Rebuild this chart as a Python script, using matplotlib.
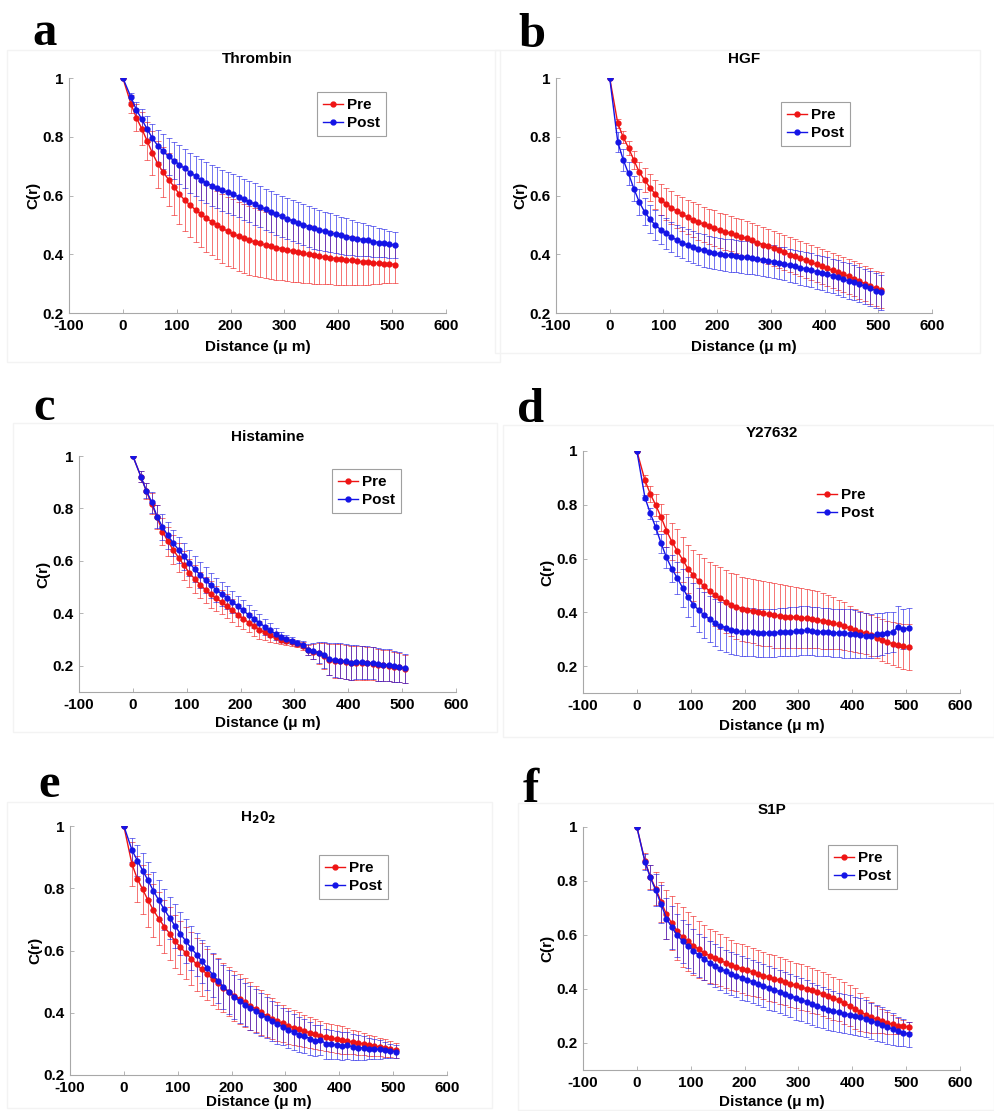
import matplotlib
matplotlib.use("Agg")
import matplotlib.pyplot as plt
from matplotlib.patches import Rectangle
from matplotlib.ticker import FuncFormatter

plt.rcParams["font.family"] = ["Liberation Sans", "DejaVu Sans"]
plt.rcParams["font.weight"] = "bold"
plt.rcParams["axes.labelweight"] = "bold"
plt.rcParams["axes.unicode_minus"] = False
plt.rcParams["mathtext.default"] = "bf"

# distance grid (um), shared by all panels
DIST = [0, 15, 25, 35, 45, 55, 65, 75, 85, 95,
        105, 115, 125, 135, 145, 155, 165, 175, 185, 195,
        205, 215, 225, 235, 245, 255, 265, 275, 285, 295,
        305, 315, 325, 335, 345, 355, 365, 375, 385, 395,
        405, 415, 425, 435, 445, 455, 465, 475, 485, 495,
        505]

# a - Thrombin
THROMBIN_PRE = [1.0, .912, .865, .828, .786, .744, .707, .679, .654, .630,
                .604, .584, .567, .551, .537, .522, .511, .500, .488, .478,
                .470, .461, .454, .448, .442, .437, .431, .427, .422, .419,
                .414, .411, .406, .403, .400, .396, .393, .390, .388, .385,
                .383, .381, .379, .376, .374, .372, .371, .369, .368, .367,
                .365]
THROMBIN_PRE_SD = [0, .03, .045, .055, .065, .075, .08, .085, .09, .095,
                   .10, .105, .108, .11, .112, .114, .115, .116, .117, .118,
                   .118, .118, .118, .117, .116, .115, .113, .112, .110, .108,
                   .106, .104, .102, .100, .098, .096, .094, .092, .090, .088,
                   .086, .084, .082, .080, .078, .075, .072, .070, .067, .065,
                   .063]
THROMBIN_POST = [1.0, .935, .892, .860, .826, .795, .769, .750, .733, .719,
                 .705, .692, .678, .666, .653, .643, .634, .626, .618, .611,
                 .604, .596, .587, .579, .571, .562, .553, .545, .536, .529,
                 .521, .514, .507, .500, .494, .488, .482, .478, .473, .469,
                 .464, .460, .456, .453, .450, .447, .443, .440, .438, .434,
                 .431]
THROMBIN_POST_SD = [0, .015, .025, .035, .045, .05, .055, .06, .062, .064,
                    .066, .067, .068, .069, .07, .07, .07, .07, .07, .07,
                    .07, .07, .07, .07, .07, .07, .07, .07, .07, .07,
                    .07, .07, .07, .07, .07, .069, .068, .067, .066, .065,
                    .064, .062, .06, .058, .056, .054, .052, .05, .048, .046,
                    .044]

# b - HGF
HGF_PRE = [1.0, .846, .799, .762, .720, .680, .652, .627, .604, .586,
           .572, .559, .546, .536, .527, .518, .510, .502, .495, .489,
           .482, .476, .471, .465, .459, .454, .447, .440, .433, .427,
           .420, .413, .406, .399, .393, .386, .379, .372, .366, .359,
           .352, .345, .338, .332, .325, .317, .309, .300, .292, .284,
           .278]
HGF_PRE_SD = [0, .015, .02, .025, .03, .035, .04, .045, .05, .052,
              .055, .056, .057, .058, .059, .06, .06, .06, .06, .06,
              .06, .06, .06, .06, .06, .06, .06, .06, .06, .06,
              .06, .06, .06, .06, .06, .06, .06, .06, .06, .06,
              .06, .06, .06, .06, .06, .06, .06, .06, .06, .06,
              .06]
HGF_POST = [1.0, .782, .722, .675, .623, .578, .544, .519, .499, .484,
            .471, .459, .448, .439, .431, .424, .419, .413, .408, .404,
            .400, .398, .396, .393, .391, .389, .387, .384, .381, .378,
            .375, .371, .368, .363, .359, .354, .350, .345, .341, .336,
            .332, .326, .321, .315, .309, .304, .298, .291, .284, .276,
            .270]
HGF_POST_SD = [0, .035, .038, .04, .042, .044, .046, .048, .05, .05,
               .052, .052, .053, .053, .054, .054, .055, .055, .055, .055,
               .055, .055, .055, .055, .055, .055, .055, .055, .055, .055,
               .055, .055, .056, .056, .057, .057, .058, .058, .058, .059,
               .059, .059, .06, .06, .06, .06, .06, .06, .06, .06,
               .06]

# c - Histamine
HISTAMINE_PRE = [1.0, .921, .866, .817, .767, .712, .675, .642, .612, .583,
                 .554, .531, .509, .490, .472, .457, .443, .427, .411, .395,
                 .380, .365, .351, .338, .327, .317, .308, .300, .294, .289,
                 .283, .275, .260, .254, .247, .237, .223, .219, .217, .214,
                 .210, .211, .211, .210, .208, .203, .202, .201, .196, .194,
                 .188]
HISTAMINE_PRE_SD = [0, .02, .03, .04, .045, .05, .055, .055, .055, .055,
                    .055, .055, .05, .05, .05, .048, .046, .045, .044, .042,
                    .04, .038, .036, .034, .03, .025, .02, .018, .015, .012,
                    .012, .015, .02, .03, .04, .05, .06, .065, .065, .065,
                    .065, .065, .064, .063, .062, .062, .06, .06, .058, .056,
                    .055]
HISTAMINE_POST = [1.0, .921, .868, .824, .769, .729, .697, .668, .642, .617,
                  .592, .568, .546, .526, .507, .490, .474, .459, .442, .427,
                  .411, .394, .379, .364, .349, .335, .321, .310, .301, .295,
                  .288, .280, .262, .256, .250, .240, .226, .222, .220, .217,
                  .212, .213, .213, .212, .210, .205, .204, .203, .198, .196,
                  .190]
HISTAMINE_POST_SD = [0, .02, .03, .04, .045, .05, .05, .05, .05, .05,
                     .05, .05, .05, .05, .048, .046, .045, .044, .042, .04,
                     .038, .036, .034, .032, .03, .027, .024, .02, .016, .013,
                     .012, .014, .02, .03, .04, .05, .06, .064, .065, .066,
                     .066, .065, .064, .063, .062, .062, .061, .06, .058, .056,
                     .055]

# d - Y27632
Y27632_PRE = [1.0, .891, .840, .799, .754, .704, .663, .629, .596, .562,
              .538, .516, .497, .479, .464, .452, .439, .429, .421, .413,
              .408, .405, .400, .396, .393, .389, .387, .384, .383, .382,
              .380, .378, .376, .372, .368, .365, .360, .355, .349, .341,
              .334, .328, .322, .314, .305, .297, .290, .283, .278, .274,
              .270]
Y27632_PRE_SD = [0, .02, .03, .04, .05, .06, .07, .08, .085, .09,
                 .095, .10, .105, .11, .113, .115, .117, .118, .12, .12,
                 .12, .12, .12, .12, .12, .12, .118, .116, .115, .113,
                 .112, .11, .108, .106, .104, .10, .096, .092, .088, .084,
                 .08, .078, .077, .076, .076, .077, .078, .08, .082, .084,
                 .085]
Y27632_POST = [1.0, .827, .768, .716, .657, .604, .562, .528, .491, .456,
               .429, .408, .390, .375, .361, .350, .343, .335, .330, .328,
               .327, .326, .324, .324, .324, .324, .326, .327, .328, .329,
               .332, .333, .330, .328, .327, .326, .324, .324, .322, .321,
               .319, .315, .313, .312, .319, .321, .324, .327, .346, .338,
               .342]
Y27632_POST_SD = [0, .01, .02, .025, .035, .04, .05, .06, .07, .075,
                  .08, .082, .084, .086, .088, .09, .09, .09, .09, .09,
                  .09, .09, .09, .09, .09, .09, .09, .09, .09, .09,
                  .09, .09, .09, .09, .09, .09, .09, .09, .09, .09,
                  .088, .086, .084, .082, .08, .078, .077, .076, .076, .075,
                  .075]

# e - H2O2
H2O2_PRE = [1.0, .878, .830, .796, .761, .729, .702, .677, .654, .630,
            .611, .592, .574, .556, .539, .523, .508, .494, .481, .468,
            .455, .444, .433, .422, .412, .401, .390, .381, .373, .366,
            .358, .352, .347, .341, .336, .331, .326, .322, .319, .315,
            .312, .309, .306, .303, .300, .296, .293, .290, .287, .283,
            .279]
H2O2_PRE_SD = [0, .07, .075, .08, .085, .085, .085, .085, .085, .085,
               .085, .085, .085, .085, .084, .083, .082, .081, .08, .08,
               .08, .079, .078, .077, .075, .072, .069, .066, .063, .06,
               .058, .056, .054, .052, .05, .048, .047, .046, .045, .045,
               .044, .042, .04, .038, .036, .034, .032, .03, .028, .026,
               .025]
H2O2_POST = [1.0, .923, .889, .857, .825, .791, .761, .732, .705, .679,
             .654, .630, .608, .587, .565, .544, .522, .502, .483, .466,
             .451, .438, .426, .416, .405, .394, .384, .374, .363, .355,
             .346, .338, .330, .325, .317, .310, .312, .301, .299, .296,
             .293, .295, .291, .288, .287, .285, .284, .282, .280, .278,
             .275]
H2O2_POST_SD = [0, .04, .05, .055, .06, .062, .064, .066, .068, .07,
                .07, .07, .07, .07, .07, .07, .07, .07, .07, .07,
                .07, .07, .07, .07, .07, .068, .066, .064, .062, .06,
                .06, .058, .056, .054, .052, .05, .049, .048, .047, .046,
                .045, .044, .042, .04, .038, .035, .032, .029, .026, .023,
                .02]

# f - S1P
S1P_PRE = [1.0, .874, .815, .772, .723, .676, .643, .614, .593, .576,
           .561, .547, .534, .523, .515, .506, .497, .490, .482, .475,
           .469, .463, .457, .450, .444, .438, .432, .426, .420, .413,
           .407, .401, .395, .389, .381, .374, .366, .358, .348, .338,
           .327, .316, .305, .295, .288, .281, .274, .269, .264, .262,
           .259]
S1P_PRE_SD = [0, .03, .045, .06, .075, .09, .10, .105, .11, .11,
              .108, .105, .102, .10, .098, .096, .094, .092, .09, .09,
              .09, .089, .088, .088, .087, .087, .086, .086, .085, .085,
              .085, .084, .083, .082, .081, .08, .079, .078, .077, .076,
              .075, .07, .065, .058, .05, .045, .04, .035, .03, .025,
              .02]
S1P_POST = [1.0, .871, .813, .766, .714, .661, .628, .599, .577, .559,
            .541, .525, .512, .498, .486, .475, .465, .456, .449, .441,
            .434, .427, .419, .412, .404, .397, .390, .382, .375, .367,
            .360, .353, .345, .338, .331, .324, .318, .313, .308, .305,
            .301, .296, .290, .283, .275, .268, .259, .252, .244, .238,
            .232]
S1P_POST_SD = [0, .03, .045, .06, .07, .075, .08, .08, .08, .08,
               .08, .08, .08, .08, .08, .08, .08, .08, .08, .08,
               .08, .08, .08, .08, .08, .08, .08, .08, .08, .08,
               .08, .079, .078, .077, .076, .075, .074, .073, .072, .071,
               .07, .069, .068, .067, .066, .064, .062, .058, .054, .05,
               .046]

TITLES = ["Thrombin", "HGF", "Histamine", "Y27632", r"H$_2$0$_2$", "S1P"]
LETTERS = ["a", "b", "c", "d", "e", "f"]
SERIES = [
    (THROMBIN_PRE, THROMBIN_PRE_SD, THROMBIN_POST, THROMBIN_POST_SD),
    (HGF_PRE, HGF_PRE_SD, HGF_POST, HGF_POST_SD),
    (HISTAMINE_PRE, HISTAMINE_PRE_SD, HISTAMINE_POST, HISTAMINE_POST_SD),
    (Y27632_PRE, Y27632_PRE_SD, Y27632_POST, Y27632_POST_SD),
    (H2O2_PRE, H2O2_PRE_SD, H2O2_POST, H2O2_POST_SD),
    (S1P_PRE, S1P_PRE_SD, S1P_POST, S1P_POST_SD),
]

W, H = 995, 1111
RED = "#ee1414"
BLUE = "#1414e6"
SPINE = "#a8a8a8"

# pixel layout: axes box (l, t, r, b), ymin, letter (x, baseline), title y,
# xlabel y, ylabel x, legend top-left, legend frame, panel frame (l, t, r, b)
LAYOUT = [
    dict(box=(69, 78, 446, 313), ymin=0.2, letter=(32, 45), ty=59, xl=347, yl=33,
         leg=(317, 92), frame=True, panel=(7, 50, 500, 362)),
    dict(box=(556, 78, 932, 313), ymin=0.2, letter=(518, 47), ty=59, xl=347, yl=520,
         leg=(781, 102), frame=True, panel=(495, 50, 980, 353)),
    dict(box=(79, 456, 456, 692), ymin=0.1, letter=(33, 420), ty=437, xl=723, yl=43,
         leg=(332, 469), frame=True, panel=(13, 423, 497, 732)),
    dict(box=(583, 451, 960, 693), ymin=0.1, letter=(517, 422), ty=433, xl=726, yl=547,
         leg=(811, 482), frame=False, panel=(503, 425, 994, 737)),
    dict(box=(70, 826, 447, 1075), ymin=0.2, letter=(38, 797), ty=818, xl=1102, yl=35,
         leg=(319, 855), frame=True, panel=(7, 802, 492, 1108)),
    dict(box=(583, 827, 960, 1070), ymin=0.1, letter=(523, 802), ty=810, xl=1102, yl=547,
         leg=(828, 845), frame=True, panel=(518, 803, 994, 1110)),
]


def fx(x):
    return x / W


def fy(y):
    return 1 - y / H


fig = plt.figure(figsize=(W / 100, H / 100), dpi=100)

for title, letter, (pre, pre_sd, post, post_sd), lay in zip(TITLES, LETTERS, SERIES, LAYOUT):
    pl, pt, pr, pb = lay["panel"]
    fig.add_artist(Rectangle((fx(pl), fy(pb)), fx(pr - pl), (pb - pt) / H,
                             transform=fig.transFigure, fill=False,
                             ec="#f3f3f3", lw=1))

    l, t, r, b = lay["box"]
    ax = fig.add_axes([fx(l), fy(b), fx(r - l), (b - t) / H])
    kw = dict(marker="o", ms=3.5, lw=1.0, elinewidth=0.55, capsize=2.4, capthick=0.55)
    e1 = ax.errorbar(DIST, pre, yerr=pre_sd, color=RED, mec=RED, **kw)
    e2 = ax.errorbar(DIST, post, yerr=post_sd, color=BLUE, mec=BLUE, **kw)
    for e in (e1, e2):
        for art in list(e[1]) + list(e[2]):
            art.set_alpha(0.75)

    ax.set_xlim(-100, 600)
    ax.set_ylim(lay["ymin"], 1)
    ax.set_xticks(range(-100, 601, 100))
    ax.set_yticks([0.2, 0.4, 0.6, 0.8, 1.0])
    ax.xaxis.set_major_formatter(FuncFormatter(lambda v, p: "%g" % v))
    ax.yaxis.set_major_formatter(FuncFormatter(lambda v, p: "%g" % round(v, 2)))
    ax.tick_params(direction="in", length=3, width=0.6, color=SPINE, labelsize=11, pad=4)
    for s in ("top", "right"):
        ax.spines[s].set_visible(False)
    for s in ("left", "bottom"):
        ax.spines[s].set_color(SPINE)
        ax.spines[s].set_linewidth(0.8)

    cx = fx((l + r) / 2)
    fig.text(cx, fy(lay["ty"]), title, ha="center", va="center", fontsize=11)
    fig.text(cx, fy(lay["xl"]), "Distance (\u03bc m)", ha="center", va="center", fontsize=11)
    fig.text(fx(lay["yl"]), fy((t + b) / 2), "C(r)", ha="center", va="center",
             rotation=90, fontsize=11)
    fig.text(fx(lay["letter"][0]), fy(lay["letter"][1]), letter, ha="left", va="baseline",
             fontsize=35, family="Liberation Serif", weight="bold")

    lx, ly = lay["leg"]
    leg = ax.legend([e1[0], e2[0]], ["Pre", "Post"], loc="upper left",
                    bbox_to_anchor=(fx(lx), fy(ly)), bbox_transform=fig.transFigure,
                    frameon=lay["frame"], fancybox=False, framealpha=1,
                    edgecolor="#a0a0a0", fontsize=11, handlelength=1.3,
                    handletextpad=0.28, borderpad=0.4, labelspacing=0.25,
                    borderaxespad=0, numpoints=1)
    leg.get_frame().set_linewidth(0.8)

fig.savefig("out.png", dpi=100)
